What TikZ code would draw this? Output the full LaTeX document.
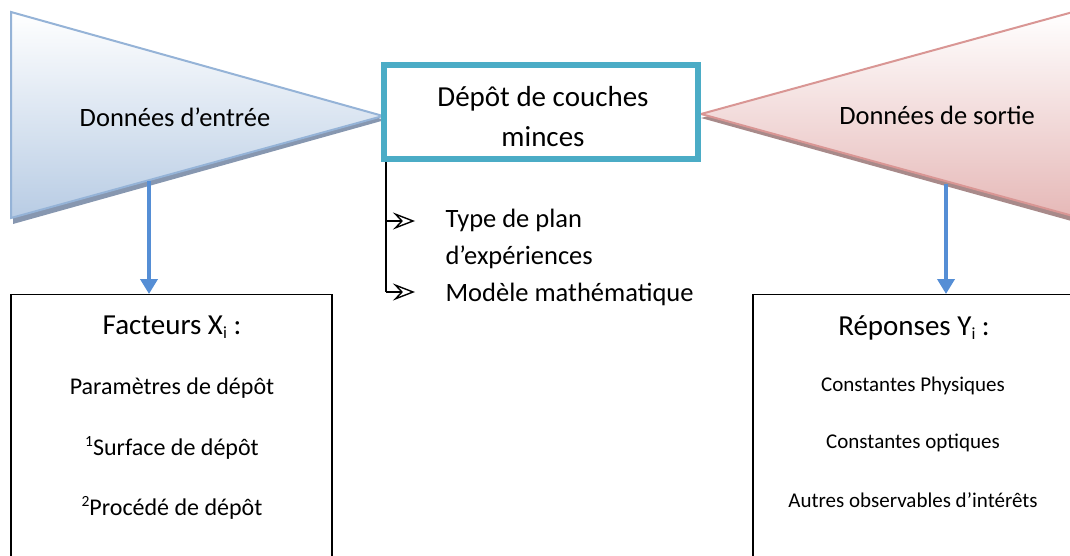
\documentclass[tikz,border=0pt]{standalone}
\usepackage{fontspec}
\setmainfont{Carlito}
\usetikzlibrary{arrows.meta}
\definecolor{inblue}{HTML}{95B3D7}
\definecolor{inbluebot}{HTML}{B8CCE4}
\definecolor{inshadow}{HTML}{8797B0}
\definecolor{outred}{HTML}{D99694}
\definecolor{outredbot}{HTML}{E6B9B8}
\definecolor{outshadow}{HTML}{A88A8A}
\definecolor{teal}{HTML}{4BACC6}
\definecolor{arrowblue}{HTML}{558ED5}
\newcommand{\supnum}[1]{\raisebox{0.75ex}{\fontsize{15.5}{15}\selectfont #1}}
\newcommand{\subidx}[1]{\raisebox{-0.25ex}{\fontsize{17}{17}\selectfont #1}}
\tikzset{
  inputtri/.style={draw=inblue, line width=2pt, top color=white, bottom color=inbluebot},
  outputtri/.style={draw=outred, line width=2pt, top color=white, bottom color=outredbot},
  procbox/.style={draw=teal, line width=6pt, fill=white, minimum width=314pt, minimum height=94pt, inner sep=0pt},
  proctxt/.style={align=center, font=\fontsize{29}{40}\selectfont},
  listbox/.style={draw=black, line width=1.2pt, fill=white, minimum width=321pt, minimum height=300pt, anchor=north},
  bigtxt/.style={font=\fontsize{26.5}{32}\selectfont},
  headtxt/.style={font=\fontsize{29}{34}\selectfont},
  itemtxt/.style={font=\fontsize{24}{28}\selectfont},
  itemtxtsmall/.style={font=\fontsize{21}{26}\selectfont},
  bluearrow/.style={draw=arrowblue, line width=4.5pt, -{Triangle[length=15pt,width=17pt]}},
  bracket/.style={draw=black, line width=1.4pt},
  bullettip/.style={bracket, -{Stealth[open, length=22pt, width=17pt, inset=8pt]}},
}
\begin{document}
\begin{tikzpicture}[x=1pt, y=-1pt]
\useasboundingbox (0,0) rectangle (1070,556);
\clip (0,0) rectangle (1070,556);
% left triangle
\fill[inshadow] (13,16) -- (385,120) -- (13,224) -- cycle;
\path[inputtri] (11,12) -- (383,116) -- (11,218) -- cycle;
\node[bigtxt] (din) at (175,117) {Données d’entrée};
% right triangle
\fill[outshadow] (701,118) -- (1075,16) -- (1075,222) -- cycle;
\path[outputtri] (701,114) -- (1073,12) -- (1073,216) -- cycle;
\node[bigtxt] (dout) at (937,115) {Données de sortie};
% central box
\node[procbox] (proc) at (541,112) {};
\node[proctxt] (proctext) at (543,117) {Dépôt de couches\\minces};
% bottom boxes
\node[listbox] (facteurs) at (171.5,294) {};
\node[listbox] (reponses) at (913.5,294) {};
\coordinate (tl) at (149,181);
\coordinate (tr) at (946,184);
\draw[bluearrow] (tl) -- (tl |- facteurs.north);
\draw[bluearrow] (tr) -- (tr |- reponses.north);
% bracket list
\coordinate (bstart) at (386,162);
\coordinate (b1) at (386,221);
\coordinate (b2) at (386,292);
\coordinate (e1) at (415,221);
\coordinate (e2) at (415,292);
\draw[bracket] (bstart) -- (b2);
\draw[bullettip] (b1) -- (e1);
\draw[bullettip] (b2) -- (e2);
\node[bigtxt, anchor=west] (t1) at (442,220) {Type de plan};
\node[bigtxt, anchor=west] (t2) at (442,257) {d’expériences};
\node[bigtxt, anchor=west] (t3) at (442,294) {Modèle mathématique};
% left box texts
\node[headtxt] (fx) at (172,327) {Facteurs X\subidx{i} :};
\node[itemtxt] (f1) at (172,388) {Paramètres de dépôt};
\node[itemtxt] (f2) at (172,448) {\supnum{1}Surface de dépôt};
\node[itemtxt] (f3) at (172,508) {\supnum{2}Procédé de dépôt};
% right box texts
\node[headtxt] (ry) at (914,328) {Réponses Y\subidx{i} :};
\node[itemtxtsmall] (r1) at (913,386) {Constantes Physiques};
\node[itemtxtsmall] (r2) at (913,443) {Constantes optiques};
\node[itemtxtsmall] (r3) at (913,500) {Autres observables d’intérêts};
\end{tikzpicture}
\end{document}
